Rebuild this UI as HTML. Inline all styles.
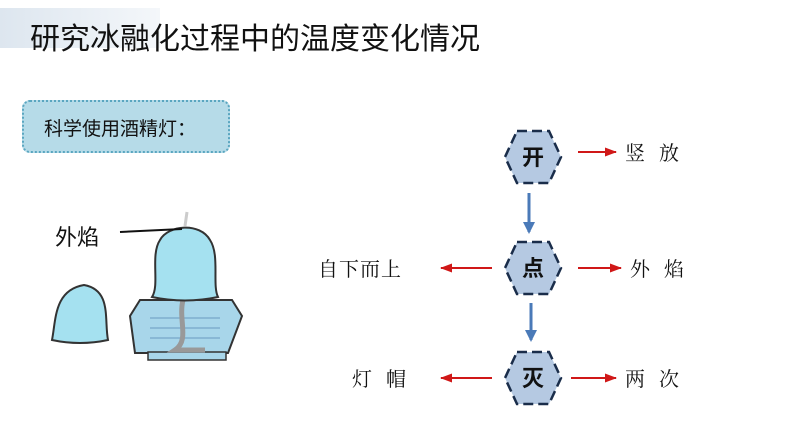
<!DOCTYPE html>
<html><head><meta charset="utf-8"><style>
body{margin:0;width:794px;height:447px;background:#fff;position:relative;overflow:hidden;font-family:"Liberation Sans","Noto Sans CJK SC",sans-serif;}
.abs{position:absolute;}
</style></head><body>
<div class="abs" style="left:0;top:8px;width:160px;height:40px;background:linear-gradient(90deg,#dde6ef,#f4f7fa);"></div>
<div class="abs" style="left:30px;top:14px;font-size:30px;color:#111;white-space:nowrap;">研究冰融化过程中的温度变化情况</div>
<div class="abs" style="left:22px;top:100px;width:204px;height:49px;background:#b6dbe8;border:2px dotted #5aa6c0;border-radius:8px;"></div>
<div class="abs" style="left:44px;top:114px;font-size:19px;color:#111;">科学使用酒精灯：</div>
<div class="abs" style="left:55px;top:220px;font-size:22px;color:#111;">外焰</div>
<svg class="abs" style="left:0;top:0" width="794" height="447">
<defs>
<marker id="r" markerWidth="12" markerHeight="10" refX="11" refY="5" orient="auto" markerUnits="userSpaceOnUse"><path d="M0,0.5 L12,5 L0,9.5z" fill="#d01818"/></marker>
<marker id="b" markerWidth="12" markerHeight="12" refX="10" refY="6" orient="auto" markerUnits="userSpaceOnUse"><path d="M0,0 L12,6 L0,12z" fill="#4a7ab8"/></marker>
</defs>
<path d="M52,340 C56,320 54,290 84,285 C112,290 104,320 108,340 Q80,346 52,340 Z" fill="#a5e1f0" stroke="#333" stroke-width="2"/>
<path d="M135,353 L130,316 L140,300 L232,300 L242,316 L228,353 Z" fill="#a8d6ea" stroke="#333" stroke-width="2"/>
<g stroke="#6a9bc0" stroke-width="1"><line x1="150" y1="318" x2="220" y2="318"/><line x1="150" y1="328" x2="220" y2="328"/><line x1="150" y1="338" x2="220" y2="338"/></g>
<rect x="148" y="352" width="78" height="8" fill="#a8d6ea" stroke="#333" stroke-width="1.5"/>
<path d="M183,300 C178,320 190,340 175,350 L205,350" fill="none" stroke="#999" stroke-width="5"/>
<path d="M152,297 C160,285 150,255 160,240 C168,225 200,222 210,240 C220,255 212,285 218,297 Q185,304 152,297 Z" fill="#a5e1f0" stroke="#333" stroke-width="2"/>
<path d="M185,226 L187,212" stroke="#ccc" stroke-width="3"/>
<line x1="120" y1="232" x2="182" y2="229" stroke="#111" stroke-width="2"/>
<g fill="#b5c9e2" stroke="#1a2d4a" stroke-width="2.5" stroke-dasharray="10,5">
<polygon points="517,131 549,131 561,157 549,183 517,183 505,157"/>
<polygon points="517,242 549,242 561,268 549,294 517,294 505,268"/>
<polygon points="517,352 549,352 561,378 549,404 517,404 505,378"/>
</g>
<g fill="#111" font-size="22" font-weight="bold" text-anchor="middle" font-family="Noto Sans CJK SC,sans-serif">
<text x="533" y="165">开</text><text x="533" y="276">点</text><text x="533" y="386">灭</text>
</g>
<g stroke="#4a7ab8" stroke-width="3">
<line x1="529" y1="193" x2="529" y2="232" marker-end="url(#b)"/>
<line x1="531" y1="303" x2="531" y2="340" marker-end="url(#b)"/>
</g>
<g stroke="#d01818" stroke-width="2">
<line x1="578" y1="152" x2="616" y2="152" marker-end="url(#r)"/>
<line x1="578" y1="268" x2="621" y2="268" marker-end="url(#r)"/>
<line x1="571" y1="378" x2="616" y2="378" marker-end="url(#r)"/>
<line x1="492" y1="268" x2="441" y2="268" marker-end="url(#r)"/>
<line x1="492" y1="378" x2="441" y2="378" marker-end="url(#r)"/>
</g>
<g fill="#111" font-size="20" font-family="Noto Serif CJK SC,serif">
<text x="625" y="160" letter-spacing="14">竖放</text>
<text x="630" y="276" letter-spacing="14">外焰</text>
<text x="625" y="386" letter-spacing="14">两次</text>
<text x="318" y="276" letter-spacing="1">自下而上</text>
<text x="352" y="386" letter-spacing="14">灯帽</text>
</g>
</svg>
</body></html>
